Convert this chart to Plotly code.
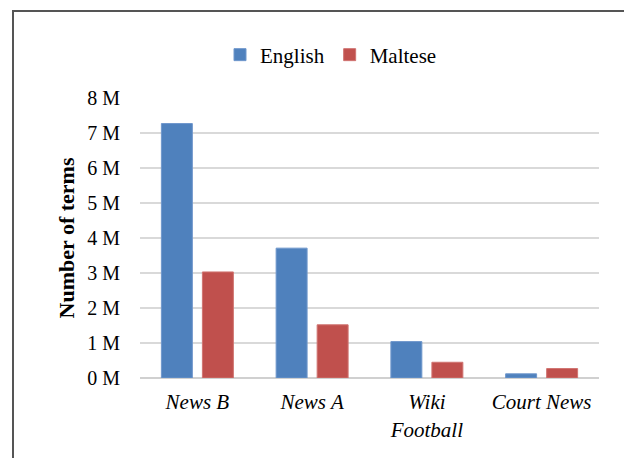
import plotly.graph_objects as go

categories = ["<i>News B</i>", "<i>News A</i>", "<i>Wiki<br>Football</i>", "<i>Court News</i>"]
english = [7.27, 3.71, 1.04, 0.12]
maltese = [3.03, 1.52, 0.45, 0.27]
tick_vals = [0, 1, 2, 3, 4, 5, 6, 7, 8]
tick_text = ["0 M", "1 M", "2 M", "3 M", "4 M", "5 M", "6 M", "7 M", "8 M"]

FONT = "Liberation Serif, Times New Roman, serif"
W, H = 624, 458
L, R, T, B = 140, 25, 98, 80
pw, ph = W - L - R, H - T - B

def px_to_paper_x(px):
    return (px - L) / pw

def px_to_paper_y(py):
    return (H - B - py) / ph

fig = go.Figure()
fig.add_trace(go.Bar(name="English", x=categories, y=english,
                     marker=dict(color="#4f81bd", line=dict(color="#6f97cc", width=1))))
fig.add_trace(go.Bar(name="Maltese", x=categories, y=maltese,
                     marker=dict(color="#c0504d", line=dict(color="#d07471", width=1))))

fig.update_layout(
    width=W, height=H,
    margin=dict(l=L, r=R, t=T, b=B, autoexpand=False),
    paper_bgcolor="white", plot_bgcolor="white",
    font=dict(family=FONT, size=20, color="black"),
    barmode="group", bargap=0.285, bargroupgap=0.245,
    showlegend=True,
    legend=dict(orientation="h", x=px_to_paper_x(220), y=px_to_paper_y(55),
                xanchor="left", yanchor="middle", font=dict(size=21),
                itemwidth=30, tracegroupgap=0, bgcolor="rgba(0,0,0,0)"),
    xaxis=dict(showgrid=False, showline=False, ticks="outside", ticklen=5,
               tickcolor="rgba(0,0,0,0)", tickfont=dict(size=21)),
    yaxis=dict(range=[0, 8], tickvals=tick_vals, ticktext=tick_text,
               showgrid=True, gridcolor="#d9d9d9", gridwidth=2,
               zeroline=True, zerolinecolor="#d0d0d0", zerolinewidth=2,
               showline=False, ticks="", ticklabelstandoff=19,
               title=dict(text="<b>Number of terms</b>", font=dict(size=22), standoff=6)),
    shapes=[dict(type="path", xref="paper", yref="paper",
                 path="M {x0},{yb} L {x0},{yt} L {xr},{yt}".format(
                     x0=px_to_paper_x(13), yb=px_to_paper_y(470),
                     yt=px_to_paper_y(11), xr=px_to_paper_x(630)),
                 line=dict(color="#555555", width=2))],
)

fig.write_html("out.html")
